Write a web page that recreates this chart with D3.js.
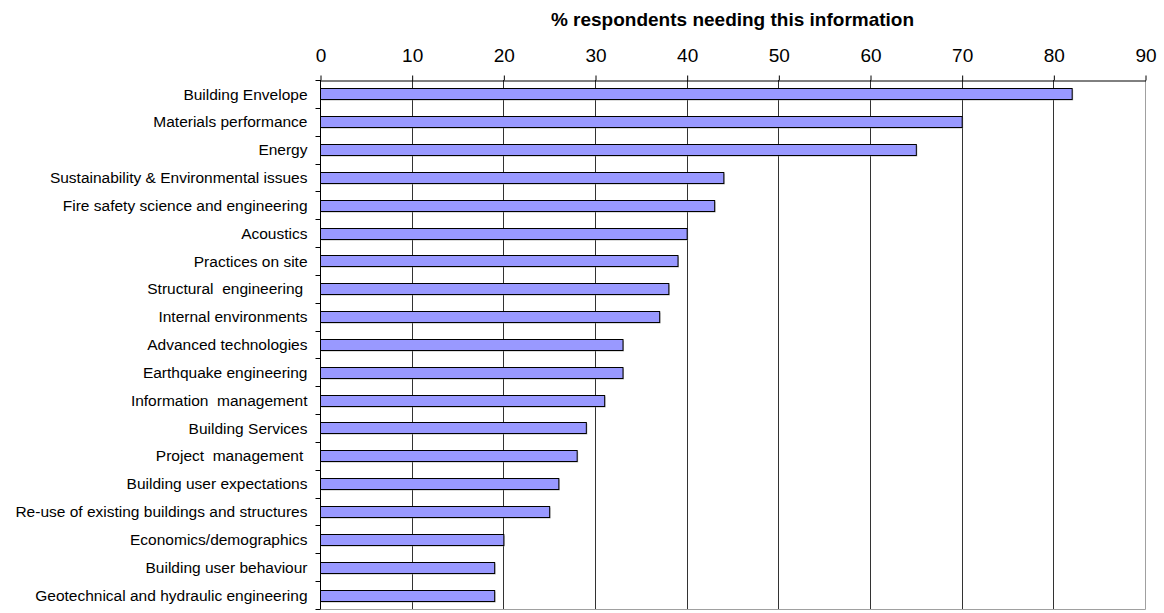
<!DOCTYPE html>
<html>
<head>
<meta charset="utf-8">
<script src="https://cdn.jsdelivr.net/npm/d3@7/dist/d3.min.js"></script>
<style>
  html, body { margin: 0; padding: 0; background: #fff; }
  svg { display: block; font-family: "Liberation Sans", Arial, sans-serif; }
</style>
</head>
<body>
<svg id="chart" width="1164" height="613"></svg>
<script>
const categories = [
  "Building Envelope",
  "Materials performance",
  "Energy",
  "Sustainability & Environmental issues",
  "Fire safety science and engineering",
  "Acoustics",
  "Practices on site",
  "Structural  engineering ",
  "Internal environments",
  "Advanced technologies",
  "Earthquake engineering",
  "Information  management",
  "Building Services",
  "Project  management ",
  "Building user expectations",
  "Re-use of existing buildings and structures",
  "Economics/demographics",
  "Building user behaviour",
  "Geotechnical and hydraulic engineering"
];
const values = [82, 70, 65, 44, 43, 40, 39, 38, 37, 33, 33, 31, 29, 28, 26, 25, 20, 19, 19];
const tickValues = [0, 10, 20, 30, 40, 50, 60, 70, 80, 90];
const axisTitle = "% respondents needing this information";

const svg = d3.select("#chart");
const mLeft = 320, mRight = 1145, mTop = 80, mBottom = 609;

const x = d3.scaleLinear().domain([0, 90]).range([mLeft, mRight]);
const yRow = d3.scaleBand().domain(categories).range([mTop, mBottom]).padding(0);
const y = d3.scaleBand().domain(categories).range([mTop, mBottom]).paddingInner(0.6).paddingOuter(0.3);

// plot border (light gray right / bottom)
svg.append("line").attr("x1", mRight + 0.5).attr("x2", mRight + 0.5).attr("y1", mTop).attr("y2", mBottom + 0.5)
  .attr("stroke", "#a0a0a0").attr("stroke-width", 1);
svg.append("line").attr("x1", mLeft).attr("x2", mRight + 0.5).attr("y1", mBottom + 0.5).attr("y2", mBottom + 0.5)
  .attr("stroke", "#a0a0a0").attr("stroke-width", 1);

// gridlines
svg.append("g").selectAll("line")
  .data(tickValues.filter(t => t > 0 && t < 90))
  .join("line")
  .attr("x1", d => Math.round(x(d)) + 0.5).attr("x2", d => Math.round(x(d)) + 0.5)
  .attr("y1", mTop).attr("y2", mBottom)
  .attr("stroke", "#333").attr("stroke-width", 1);

// bar shadows
svg.append("g").selectAll("rect")
  .data(values)
  .join("rect")
  .attr("x", x(0) + 1.5)
  .attr("y", (d, i) => Math.round(y(categories[i])) + 1.5)
  .attr("width", d => x(d) - x(0))
  .attr("height", Math.round(y.bandwidth()))
  .attr("fill", "#888").attr("opacity", 0.6);

// bars
svg.append("g").selectAll("rect")
  .data(values)
  .join("rect")
  .attr("x", x(0) + 0.5)
  .attr("y", (d, i) => Math.round(y(categories[i])) + 0.5)
  .attr("width", d => x(d) - x(0))
  .attr("height", Math.round(y.bandwidth()))
  .attr("fill", "#9999ff").attr("stroke", "#000").attr("stroke-width", 1);

// top axis
const xAxis = d3.axisTop(x).tickValues(tickValues).tickSize(5).tickSizeOuter(0).tickPadding(14);
const gx = svg.append("g").attr("transform", `translate(0.5,${mTop + 0.5})`).call(xAxis);
gx.select(".domain").attr("stroke", "#000");
gx.selectAll(".tick line").attr("stroke", "#000");
gx.selectAll(".tick text").attr("font-size", 19).attr("fill", "#000")
  .attr("font-family", "'Liberation Sans', Arial, sans-serif");

// left axis
const gy = svg.append("g").attr("transform", `translate(${mLeft + 0.5},0)`);
gy.append("line").attr("x1", 0).attr("x2", 0).attr("y1", mTop).attr("y2", mBottom).attr("stroke", "#000");
const boundaries = categories.map(c => yRow(c)).concat([mBottom]);
gy.selectAll("line.tk").data(boundaries).join("line").attr("class", "tk")
  .attr("x1", -5).attr("x2", 0)
  .attr("y1", d => Math.round(d) + 0.5).attr("y2", d => Math.round(d) + 0.5)
  .attr("stroke", "#000");
gy.selectAll("text").data(categories).join("text")
  .attr("x", -13)
  .attr("y", d => y(d) + y.bandwidth() / 2)
  .attr("dy", "0.36em")
  .attr("text-anchor", "end")
  .attr("font-size", 15.5)
  .attr("fill", "#000")
  .style("white-space", "pre")
  .text(d => d);

// axis title
svg.append("text")
  .attr("x", (mLeft + mRight) / 2)
  .attr("y", 26)
  .attr("text-anchor", "middle")
  .attr("font-size", 19)
  .attr("font-weight", "bold")
  .attr("fill", "#000")
  .text(axisTitle);
</script>
</body>
</html>
